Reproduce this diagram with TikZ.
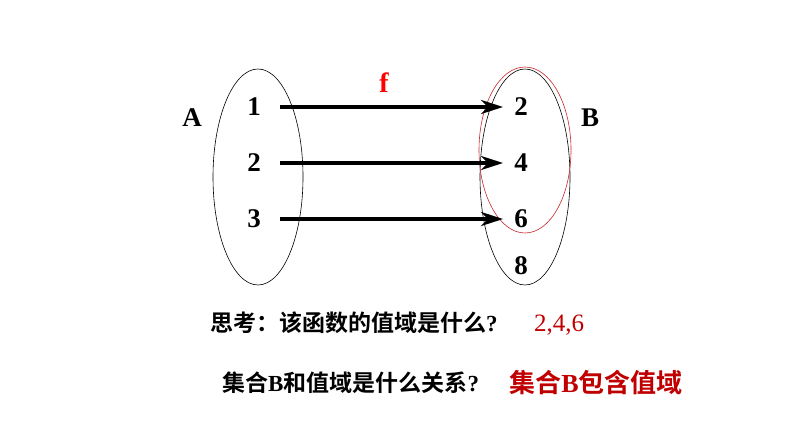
\documentclass[tikz,border=0pt]{standalone}
\usepackage{fontspec}
\setmainfont{Liberation Serif}
\newfontfamily\cjk{Noto Sans CJK SC}[BoldFont={Noto Sans CJK SC Bold}]
\usetikzlibrary{positioning,shapes.geometric,arrows.meta}
\definecolor{darkred}{RGB}{192,0,0}
\definecolor{ringred}{RGB}{200,40,45}

\begin{document}
\begin{tikzpicture}[x=1pt,y=1pt,node distance=56pt,on grid,
    elem/.style={font=\fontsize{27}{27}\selectfont\bfseries,inner sep=1pt},
    setshape/.style={draw,ellipse,line width=0.6pt,minimum width=90pt,minimum height=216pt,inner sep=0pt},
    map/.style={-{Stealth[length=22pt,width=14pt,inset=7pt]},line width=4pt,shorten <=18pt,shorten >=10pt},
    question/.style={anchor=west,font=\fontsize{23}{23}\selectfont\bfseries,inner sep=0pt}]
   \useasboundingbox (0,0) rectangle (794,447);
   \node[setshape] (setA) at (258,270) {};
   \node[setshape] (setB) at (525,270) {};
   \node[setshape,draw=ringred,minimum width=92pt,minimum height=166pt] (range) at (525,297) {};
   \node[elem] (a_1) at (254,340) {1};
   \node[elem] (a_2) [below=of a_1] {2};
   \node[elem] (a_3) [below=of a_2] {3};
   \node[elem] (b_2) [right=267pt of a_1] {2};
   \node[elem] (b_4) [below=of b_2] {4};
   \node[elem] (b_6) [below=of b_4] {6};
   \node[elem] (b_8) [below=47pt of b_6] {8};
   \node[elem] (nameA) at (192,329) {A};
   \node[elem] (nameB) at (590,329) {B};
   \node[elem,text=red,font=\fontsize{28}{28}\selectfont\bfseries] (f) at (384,364) {f};
   \path[map]
    (a_1) edge (b_2)
    (a_2) edge (b_4)
    (a_3) edge (b_6);
   % questions and answers
   \node[question] (q_1) at (210,124) {{\cjk 思考：该函数的值域是什么}?};
   \node[question,text=darkred,anchor=center,font=\fontsize{25}{25}\selectfont] (ans_1) at (559,122) {2,4,6};
   \node[question] (q_2) at (222,64) {{\cjk 集合}B{\cjk 和值域是什么关系}?};
   \node[question,text=darkred,anchor=center,font=\fontsize{26}{26}\selectfont\bfseries] (ans_2) at (596,64) {{\cjk 集合}B{\cjk 包含值域}};
\end{tikzpicture}
\end{document}
